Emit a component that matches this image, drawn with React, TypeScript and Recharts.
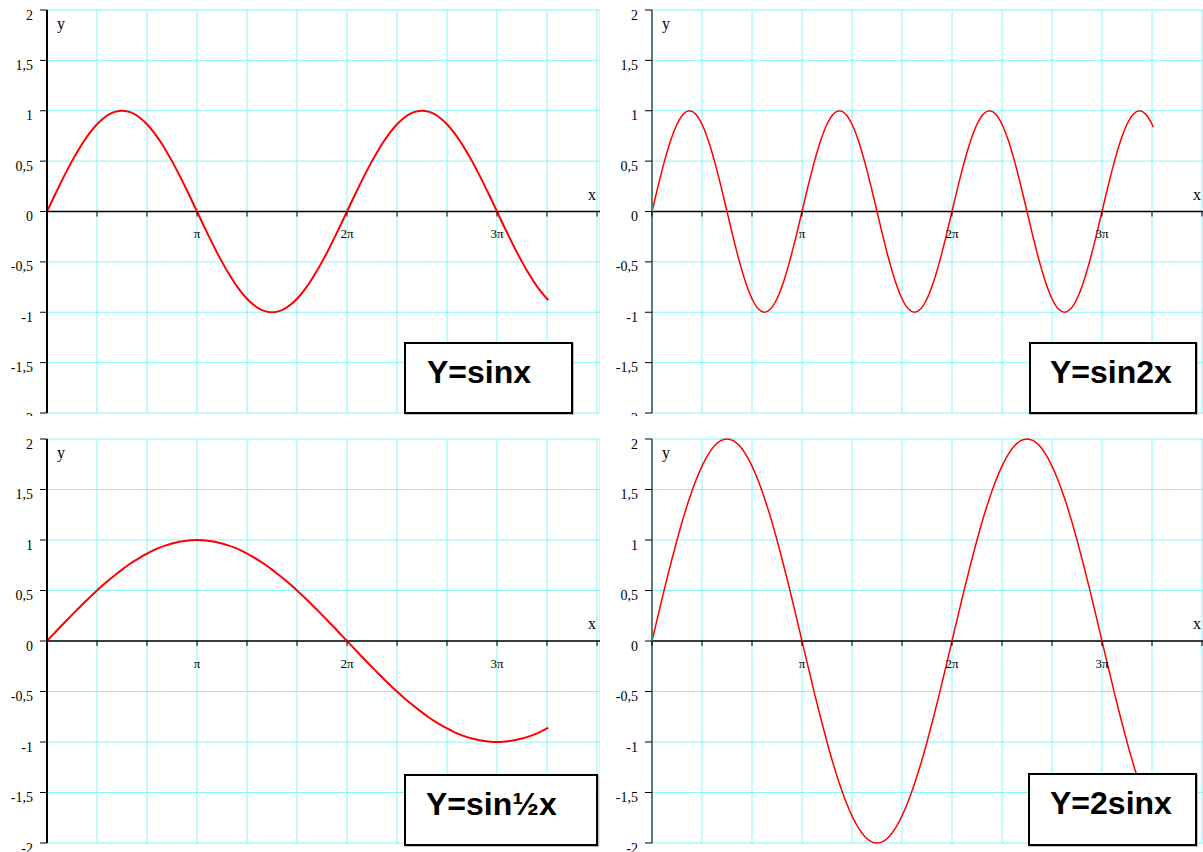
import { LineChart, Line, XAxis, YAxis, CartesianGrid, ReferenceLine } from 'recharts'

// x in degrees (180 = π), sampled every 7.5°, last point at 10.5 rad
const X_DEG = [
  0, 7.5, 15, 22.5, 30, 37.5, 45, 52.5, 60, 67.5, 75, 82.5, 90, 97.5, 105, 112.5, 120, 127.5, 135, 142.5,
  150, 157.5, 165, 172.5, 180, 187.5, 195, 202.5, 210, 217.5, 225, 232.5, 240, 247.5, 255, 262.5, 270, 277.5,
  285, 292.5, 300, 307.5, 315, 322.5, 330, 337.5, 345, 352.5, 360, 367.5, 375, 382.5, 390, 397.5, 405, 412.5,
  420, 427.5, 435, 442.5, 450, 457.5, 465, 472.5, 480, 487.5, 495, 502.5, 510, 517.5, 525, 532.5, 540, 547.5,
  555, 562.5, 570, 577.5, 585, 592.5, 600, 601.6,
]

const SIN_X = [
  0, 0.131, 0.259, 0.383, 0.5, 0.609, 0.707, 0.793, 0.866, 0.924, 0.966, 0.991, 1,
  0.991, 0.966, 0.924, 0.866, 0.793, 0.707, 0.609, 0.5, 0.383, 0.259, 0.131, 0,
  -0.131, -0.259, -0.383, -0.5, -0.609, -0.707, -0.793, -0.866, -0.924, -0.966, -0.991, -1,
  -0.991, -0.966, -0.924, -0.866, -0.793, -0.707, -0.609, -0.5, -0.383, -0.259, -0.131, 0,
  0.131, 0.259, 0.383, 0.5, 0.609, 0.707, 0.793, 0.866, 0.924, 0.966, 0.991, 1,
  0.991, 0.966, 0.924, 0.866, 0.793, 0.707, 0.609, 0.5, 0.383, 0.259, 0.131, 0,
  -0.131, -0.259, -0.383, -0.5, -0.609, -0.707, -0.793, -0.866, -0.88,
]

const SIN_2X = [
  0, 0.259, 0.5, 0.707, 0.866, 0.966, 1,
  0.966, 0.866, 0.707, 0.5, 0.259, 0,
  -0.259, -0.5, -0.707, -0.866, -0.966, -1,
  -0.966, -0.866, -0.707, -0.5, -0.259, 0,
  0.259, 0.5, 0.707, 0.866, 0.966, 1,
  0.966, 0.866, 0.707, 0.5, 0.259, 0,
  -0.259, -0.5, -0.707, -0.866, -0.966, -1,
  -0.966, -0.866, -0.707, -0.5, -0.259, 0,
  0.259, 0.5, 0.707, 0.866, 0.966, 1,
  0.966, 0.866, 0.707, 0.5, 0.259, 0,
  -0.259, -0.5, -0.707, -0.866, -0.966, -1,
  -0.966, -0.866, -0.707, -0.5, -0.259, 0,
  0.259, 0.5, 0.707, 0.866, 0.966, 1,
  0.966, 0.866, 0.837,
]

const SIN_HALF_X = [
  0, 0.065, 0.131, 0.195, 0.259, 0.321, 0.383, 0.442, 0.5, 0.556, 0.609, 0.659, 0.707, 0.752, 0.793, 0.831, 0.866, 0.897, 0.924, 0.947, 0.966, 0.981, 0.991, 0.998, 1,
  0.998, 0.991, 0.981, 0.966, 0.947, 0.924, 0.897, 0.866, 0.831, 0.793, 0.752, 0.707, 0.659, 0.609, 0.556, 0.5, 0.442, 0.383, 0.321, 0.259, 0.195, 0.131, 0.065, 0,
  -0.065, -0.131, -0.195, -0.259, -0.321, -0.383, -0.442, -0.5, -0.556, -0.609, -0.659, -0.707, -0.752, -0.793, -0.831, -0.866, -0.897, -0.924, -0.947, -0.966, -0.981, -0.991, -0.998, -1,
  -0.998, -0.991, -0.981, -0.966, -0.947, -0.924, -0.897, -0.866, -0.859,
]

const TWO_SIN_X = [
  0, 0.261, 0.518, 0.765, 1, 1.218, 1.414, 1.587, 1.732, 1.848, 1.932, 1.983, 2,
  1.983, 1.932, 1.848, 1.732, 1.587, 1.414, 1.218, 1, 0.765, 0.518, 0.261, 0,
  -0.261, -0.518, -0.765, -1, -1.218, -1.414, -1.587, -1.732, -1.848, -1.932, -1.983, -2,
  -1.983, -1.932, -1.848, -1.732, -1.587, -1.414, -1.218, -1, -0.765, -0.518, -0.261, 0,
  0.261, 0.518, 0.765, 1, 1.218, 1.414, 1.587, 1.732, 1.848, 1.932, 1.983, 2,
  1.983, 1.932, 1.848, 1.732, 1.587, 1.414, 1.218, 1, 0.765, 0.518, 0.261, 0,
  -0.261, -0.518, -0.765, -1, -1.218, -1.414, -1.587, -1.732, -1.759,
]

const GRID_X = [0, 60, 120, 180, 240, 300, 360, 420, 480, 540, 600, 660]
const X_TICK_VALUES = [180, 360, 540]
const X_TICK_LABELS = ['π', '2π', '3π']
const Y_TICKS = [-2, -1.5, -1, -0.5, 0, 0.5, 1, 1.5, 2]
const Y_TICK_LABELS = ['-2', '-1,5', '-1', '-0,5', '0', '0,5', '1', '1,5', '2']

const X_MAX = 663.6
const GRID_COLOR = '#86f6f8'
const SERIF = '"Liberation Serif", "Times New Roman", serif'

const rows = X_DEG.map((x, i) => ({
  x,
  sinx: SIN_X[i],
  sin2x: SIN_2X[i],
  sinhalf: SIN_HALF_X[i],
  twosinx: TWO_SIN_X[i],
}))

interface PanelProps {
  left: number
  top: number
  chartH: number
  plotH: number
  clipH: number
  dataKey: string
  lineWidth: number
  axisColor: string
  caption: string
  box: { left: number; top: number; width: number; height: number; pad: number }
}

function Panel({ left, top, chartH, plotH, clipH, dataKey, lineWidth, axisColor, caption, box }: PanelProps) {
  const zeroY = 10 + plotH / 2

  // x ticks are drawn on the zero line, not at the bottom of the plot
  const renderXTick = (props: any) => {
    const { x, payload } = props
    const idx = X_TICK_VALUES.indexOf(payload.value)
    return (
      <g>
        <line x1={x} x2={x} y1={zeroY} y2={zeroY + 5} stroke="#000" strokeWidth={1} />
        {idx >= 0 && (
          <text x={x} y={zeroY + 22} textAnchor="middle" dominantBaseline="central" fontSize={13} fontFamily={SERIF} fill="#000">
            {X_TICK_LABELS[idx]}
          </text>
        )}
      </g>
    )
  }

  const renderYTick = (props: any) => {
    const { x, y, payload } = props
    const idx = Y_TICKS.indexOf(payload.value)
    return (
      <text x={x} y={y + 5} textAnchor="end" dominantBaseline="central" fontSize={14} fontFamily={SERIF} fill="#000">
        {Y_TICK_LABELS[idx]}
      </text>
    )
  }

  return (
    <div style={{ position: 'absolute', left, top, width: 600, height: clipH, overflow: 'hidden' }}>
      <LineChart width={600} height={chartH} data={rows} margin={{ top: 10, right: 0, bottom: chartH - 11 - plotH, left: 0 }}>
        <CartesianGrid stroke={GRID_COLOR} strokeWidth={1} />
        <XAxis
          dataKey="x"
          type="number"
          domain={[0, X_MAX]}
          ticks={GRID_X}
          interval={0}
          height={1}
          axisLine={false}
          tickLine={false}
          tick={renderXTick}
          allowDataOverflow
        />
        <YAxis
          type="number"
          domain={[-2, 2]}
          ticks={Y_TICKS}
          interval={0}
          width={47}
          axisLine={{ stroke: axisColor, strokeWidth: 2 }}
          tickLine={{ stroke: '#000', strokeWidth: 1 }}
          tickSize={7}
          tickMargin={7}
          tick={renderYTick}
        />
        <ReferenceLine y={0} stroke="#000" strokeWidth={1.5} />
        <Line type="monotone" dataKey={dataKey} stroke="#ff0000" strokeWidth={lineWidth} dot={false} isAnimationActive={false} />
      </LineChart>
      <span style={{ position: 'absolute', left: 57, top: 16, fontFamily: SERIF, fontSize: 16, lineHeight: '16px' }}>y</span>
      <span style={{ position: 'absolute', left: 588, top: zeroY - 25, fontFamily: SERIF, fontSize: 16, lineHeight: '16px' }}>x</span>
      <div
        style={{
          position: 'absolute',
          left: box.left,
          top: box.top,
          width: box.width,
          height: box.height,
          boxSizing: 'border-box',
          border: '2px solid #000',
          background: '#fff',
          boxShadow: '1px 1px 0 #bbb',
          paddingLeft: box.pad,
          paddingTop: 12,
          fontFamily: '"Liberation Sans", Arial, sans-serif',
          fontWeight: 'bold',
          fontSize: 32,
          lineHeight: '32px',
          whiteSpace: 'nowrap',
        }}
      >
        {caption}
      </div>
    </div>
  )
}

export default function App() {
  return (
    <div style={{ position: 'absolute', left: 0, top: 0, width: 1203, height: 852, overflow: 'hidden', background: '#fff' }}>
      <Panel
        left={0} top={0} chartH={420} plotH={403} clipH={416}
        dataKey="sinx" lineWidth={2} axisColor="#000" caption="Y=sinx"
        box={{ left: 404, top: 342, width: 169, height: 72, pad: 21 }}
      />
      <Panel
        left={605} top={0} chartH={420} plotH={403} clipH={416}
        dataKey="sin2x" lineWidth={1.5} axisColor="#5a7a7a" caption="Y=sin2x"
        box={{ left: 424, top: 342, width: 168, height: 72, pad: 19 }}
      />
      <Panel
        left={0} top={429} chartH={423} plotH={404} clipH={423}
        dataKey="sinhalf" lineWidth={2} axisColor="#000" caption="Y=sin½x"
        box={{ left: 404, top: 345, width: 194, height: 72, pad: 20 }}
      />
      <Panel
        left={605} top={429} chartH={423} plotH={404} clipH={423}
        dataKey="twosinx" lineWidth={1.5} axisColor="#5a7a7a" caption="Y=2sinx"
        box={{ left: 423, top: 344, width: 169, height: 73, pad: 20 }}
      />
    </div>
  )
}
